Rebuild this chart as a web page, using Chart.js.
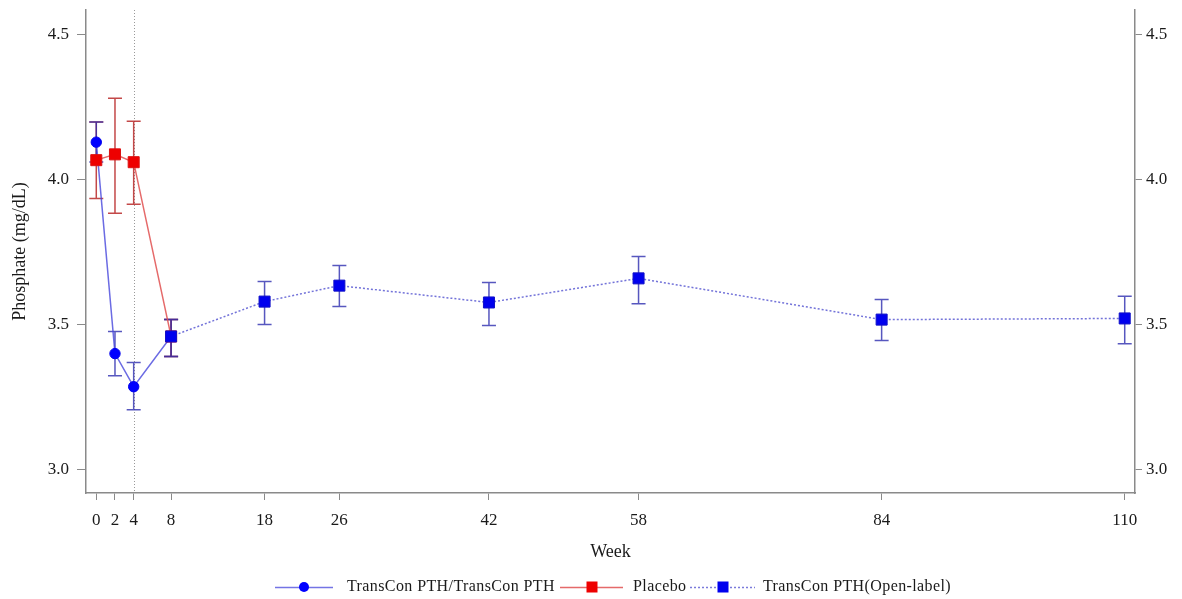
<!DOCTYPE html>
<html><head><meta charset="utf-8">
<script src="https://cdn.jsdelivr.net/npm/chart.js@4.4.1/dist/chart.umd.min.js"></script>
<style>html,body{margin:0;padding:0;background:#fff;}#wrap{width:1182px;height:599px;position:relative;}</style>
</head><body><div id="wrap"><canvas id="c" width="1182" height="599"></canvas></div>
<script>
const weekTicks=[0,2,4,8,18,26,42,58,84,110];
const yTicks=[3.0,3.5,4.0,4.5];
const tcWeeks=[0,2,4,8];
const tcMean=[4.128,3.400,3.286,3.459];
const tcLow=[4.060,3.324,3.207,3.390];
const tcHigh=[4.197,3.476,3.369,3.517];
const pbWeeks=[0,2,4,8];
const pbMean=[4.066,4.086,4.059,3.459];
const pbLow=[3.934,3.883,3.914,3.390];
const pbHigh=[4.197,4.279,4.200,3.517];
const olWeeks=[8,18,26,42,58,84,110];
const olMean=[3.459,3.579,3.634,3.576,3.659,3.517,3.521];
const olLow=[3.390,3.500,3.562,3.497,3.572,3.445,3.434];
const olHigh=[3.517,3.648,3.703,3.645,3.734,3.586,3.597];
const seriesNames=['TransCon PTH/TransCon PTH','Placebo','TransCon PTH(Open-label)'];
const refWeek=4;

const FONT='"Liberation Serif", "Times New Roman", serif';
const TXT='#1a1a1a';
const AX='#8a8a8a';

function pts(xs,ys){return xs.map((x,i)=>({x:x,y:ys[i]}));}

const errorBars={
  id:'errorBars',
  beforeDatasetsDraw(chart){
    const ctx=chart.ctx, xs=chart.scales.x, ys=chart.scales.y, ca=chart.chartArea;
    ctx.save();
    ctx.strokeStyle='#999';ctx.lineWidth=1;ctx.setLineDash([1,2]);
    const rx=Math.round(xs.getPixelForValue(refWeek))+0.5;
    ctx.beginPath();ctx.moveTo(rx,ca.top);ctx.lineTo(rx,ca.bottom);ctx.stroke();
    ctx.restore();
    chart.data.datasets.forEach(ds=>{
      if(!ds.errLow)return;
      ctx.save();
      ctx.strokeStyle=ds.errColor;ctx.lineWidth=1.5;
      ds.data.forEach((p,i)=>{
        const px=xs.getPixelForValue(p.x);
        const lo=ys.getPixelForValue(ds.errLow[i]);
        const hi=ys.getPixelForValue(ds.errHigh[i]);
        ctx.beginPath();
        ctx.moveTo(px,lo);ctx.lineTo(px,hi);
        ctx.moveTo(px-7,lo);ctx.lineTo(px+7,lo);
        ctx.moveTo(px-7,hi);ctx.lineTo(px+7,hi);
        ctx.stroke();
      });
      ctx.restore();
    });
  }
};

const legendPlug={
  id:'legendPlug',
  afterDraw(chart){
    const ctx=chart.ctx;const y=587;
    const items=[
      {x0:275,x1:333,m:304,tx:347,line:'rgba(70,70,220,0.75)',dash:[],shape:'circle',fill:'#0000ff'},
      {x0:560,x1:623,m:592,tx:633,line:'rgba(225,80,80,0.85)',dash:[],shape:'rect',fill:'#ee0000'},
      {x0:690,x1:755,m:723,tx:763,line:'rgba(90,90,210,0.8)',dash:[2,2],shape:'rect',fill:'#0000ee'}
    ];
    ctx.save();
    items.forEach((it,i)=>{
      ctx.strokeStyle=it.line;ctx.lineWidth=1.5;ctx.setLineDash(it.dash);
      ctx.beginPath();ctx.moveTo(it.x0,y+0.5);ctx.lineTo(it.x1,y+0.5);ctx.stroke();
      ctx.setLineDash([]);
      ctx.fillStyle=it.fill;
      if(it.shape==='circle'){ctx.beginPath();ctx.arc(it.m,y,5,0,Math.PI*2);ctx.fill();}
      else{ctx.fillRect(it.m-5.5,y-5.5,11,11);}
      ctx.fillStyle=TXT;ctx.font='16px '+FONT;ctx.textBaseline='middle';ctx.textAlign='left';
      try{ctx.letterSpacing='0.4px';}catch(e){}
      ctx.fillText(seriesNames[i],it.tx,y);
    });
    ctx.restore();
  }
};

const yAxisBase=(pos,w,tl,pad)=>({
  type:'linear',position:pos,min:2.92,max:4.583,
  afterBuildTicks:s=>{s.ticks=yTicks.map(v=>({value:v}));},
  afterFit:s=>{s.width=w;s.paddingTop=0;s.paddingBottom=0;},
  ticks:{autoSkip:false,font:{family:FONT,size:17},color:TXT,padding:pad,callback:v=>Number(v).toFixed(1)},
  grid:{display:true,drawOnChartArea:false,drawTicks:true,tickLength:tl,color:AX,tickColor:AX},
  border:{display:true,color:AX,width:1.5}
});

const cfg={
  type:'line',
  data:{datasets:[
    {label:seriesNames[2],data:pts(olWeeks,olMean),errLow:olLow,errHigh:olHigh,errColor:'rgba(45,45,175,0.8)',
     borderColor:'rgba(90,90,210,0.85)',borderWidth:1.5,borderDash:[2,2],pointStyle:'rect',pointRadius:7.8,
     pointBackgroundColor:'#0000ee',pointBorderColor:'#1010c8',pointBorderWidth:1,order:0,tension:0},
    {label:seriesNames[1],data:pts(pbWeeks,pbMean),errLow:pbLow,errHigh:pbHigh,errColor:'rgba(185,40,40,0.85)',
     borderColor:'rgba(225,80,80,0.85)',borderWidth:1.5,pointStyle:'rect',pointRadius:7.8,
     pointBackgroundColor:'#ee0000',pointBorderColor:'#dd1010',pointBorderWidth:1,order:1,tension:0},
    {label:seriesNames[0],data:pts(tcWeeks,tcMean),errLow:tcLow,errHigh:tcHigh,errColor:'rgba(45,45,175,0.8)',
     borderColor:'rgba(70,70,220,0.8)',borderWidth:1.5,pointStyle:'circle',pointRadius:5.2,
     pointBackgroundColor:'#0000ff',pointBorderColor:'#0000ee',pointBorderWidth:1,order:2,tension:0}
  ]},
  options:{
    responsive:false,animation:false,devicePixelRatio:1,
    layout:{padding:{top:10,bottom:36,left:0,right:0}},
    plugins:{legend:{display:false},tooltip:{enabled:false}},
    scales:{
      x:{type:'linear',position:'bottom',min:-1.1,max:111.1,
        afterBuildTicks:s=>{s.ticks=weekTicks.map(v=>({value:v}));},
        afterFit:s=>{s.height=70;s.paddingLeft=0;s.paddingRight=0;},
        ticks:{autoSkip:false,maxRotation:0,font:{family:FONT,size:17},color:TXT,padding:10,callback:v=>String(v)},
        grid:{display:true,drawOnChartArea:false,drawTicks:true,tickLength:7,color:AX,tickColor:AX},
        border:{display:true,color:AX,width:1.5},
        title:{display:true,text:'Week',font:{family:FONT,size:18},color:TXT,padding:{top:0,bottom:0}}
      },
      y:Object.assign(yAxisBase('left',86,9,8),{title:{display:true,text:'Phosphate (mg/dL)',font:{family:FONT,size:18},color:TXT,padding:{top:9,bottom:0}}}),
      y2:yAxisBase('right',47,7,4)
    }
  },
  plugins:[errorBars,legendPlug]
};
new Chart(document.getElementById('c'),cfg);
</script></body></html>
